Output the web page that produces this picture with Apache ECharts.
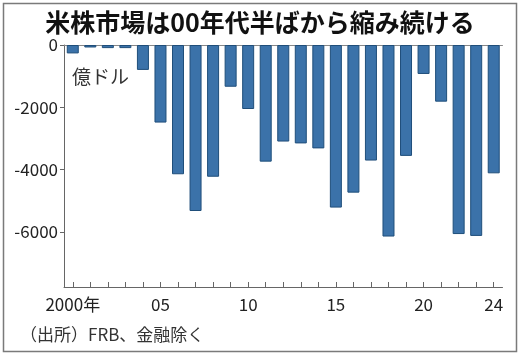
<!DOCTYPE html>
<html>
<head>
<meta charset="utf-8">
<script src="https://cdn.jsdelivr.net/npm/echarts@6/dist/echarts.min.js"></script>
<style>
html,body{margin:0;padding:0;background:#fff;}
#c{width:520px;height:358px;}
</style>
</head>
<body>
<div id="c"></div>
<script>
var years = ['2000','2001','2002','2003','2004','2005','2006','2007','2008','2009','2010','2011','2012','2013','2014','2015','2016','2017','2018','2019','2020','2021','2022','2023','2024'];
var values = [-270,-80,-100,-100,-800,-2490,-4150,-5330,-4230,-1340,-2055,-3745,-3100,-3160,-3320,-5220,-4740,-3710,-6150,-3560,-930,-1820,-6070,-6130,-4120];
var xTickLabels = {0:'2000年',5:'05',10:'10',15:'15',20:'20',24:'24'};
var yTickValues = [0,-2000,-4000,-6000];
var titleText = '米株市場は00年代半ばから縮み続ける';
var unitText = '億ドル';
var sourceText = '（出所）FRB、金融除く';

var FONT = '"Noto Sans CJK JP", "Noto Sans", sans-serif';
var chart = echarts.init(document.getElementById('c'), null, {renderer:'canvas'});
chart.setOption({
  animation:false,
  backgroundColor:'#fff',
  title:{
    text:titleText, left:'center', top:5,
    textStyle:{fontFamily:FONT, fontSize:25, fontWeight:'bold', color:'#111'}
  },
  graphic:[
    {type:'rect', shape:{x:3.5,y:3.5,width:513,height:348}, style:{fill:null, stroke:'#7a7a7a', lineWidth:1.5}, silent:true},
    {type:'text', left:72, top:67, style:{text:unitText, fontFamily:FONT, fontSize:19, fill:'#333'}},
    {type:'text', left:20, top:326, style:{text:sourceText, fontFamily:FONT, fontSize:17, fill:'#333'}}
  ],
  grid:{left:64, right:17.5, top:45, bottom:71, containLabel:false},
  xAxis:[{
    type:'category', data:years, position:'bottom', boundaryGap:true,
    axisLine:{onZero:false, lineStyle:{color:'#666', width:1}},
    axisTick:{show:true, inside:true, length:5, alignWithLabel:true, interval:0, lineStyle:{color:'#666'}},
    axisLabel:{
      interval:function(i){ return xTickLabels[i] !== undefined; },
      formatter:function(v, i){ return xTickLabels[i] || ''; },
      fontFamily:FONT, fontSize:17, color:'#222', margin:9
    },
    splitLine:{show:false}
  },{
    type:'category', data:years, position:'top', boundaryGap:true,
    axisLine:{show:true, onZero:false, lineStyle:{color:'#888', width:1}},
    axisTick:{show:false}, axisLabel:{show:false}, splitLine:{show:false}
  }],
  yAxis:{
    type:'value', min:-7770, max:0,
    axisLine:{show:true, lineStyle:{color:'#666', width:1}},
    axisTick:{show:true, length:4, customValues:yTickValues, lineStyle:{color:'#666'}},
    axisLabel:{customValues:yTickValues, formatter:function(v){ return String(v); }, fontFamily:FONT, fontSize:17, color:'#222', margin:6},
    splitLine:{show:false}
  },
  series:[{
    type:'bar', data:values, barWidth:12, xAxisIndex:0,
    itemStyle:{color:'#3b72a9', borderColor:'#1f4e7a', borderWidth:1}
  }]
});
</script>
</body>
</html>
